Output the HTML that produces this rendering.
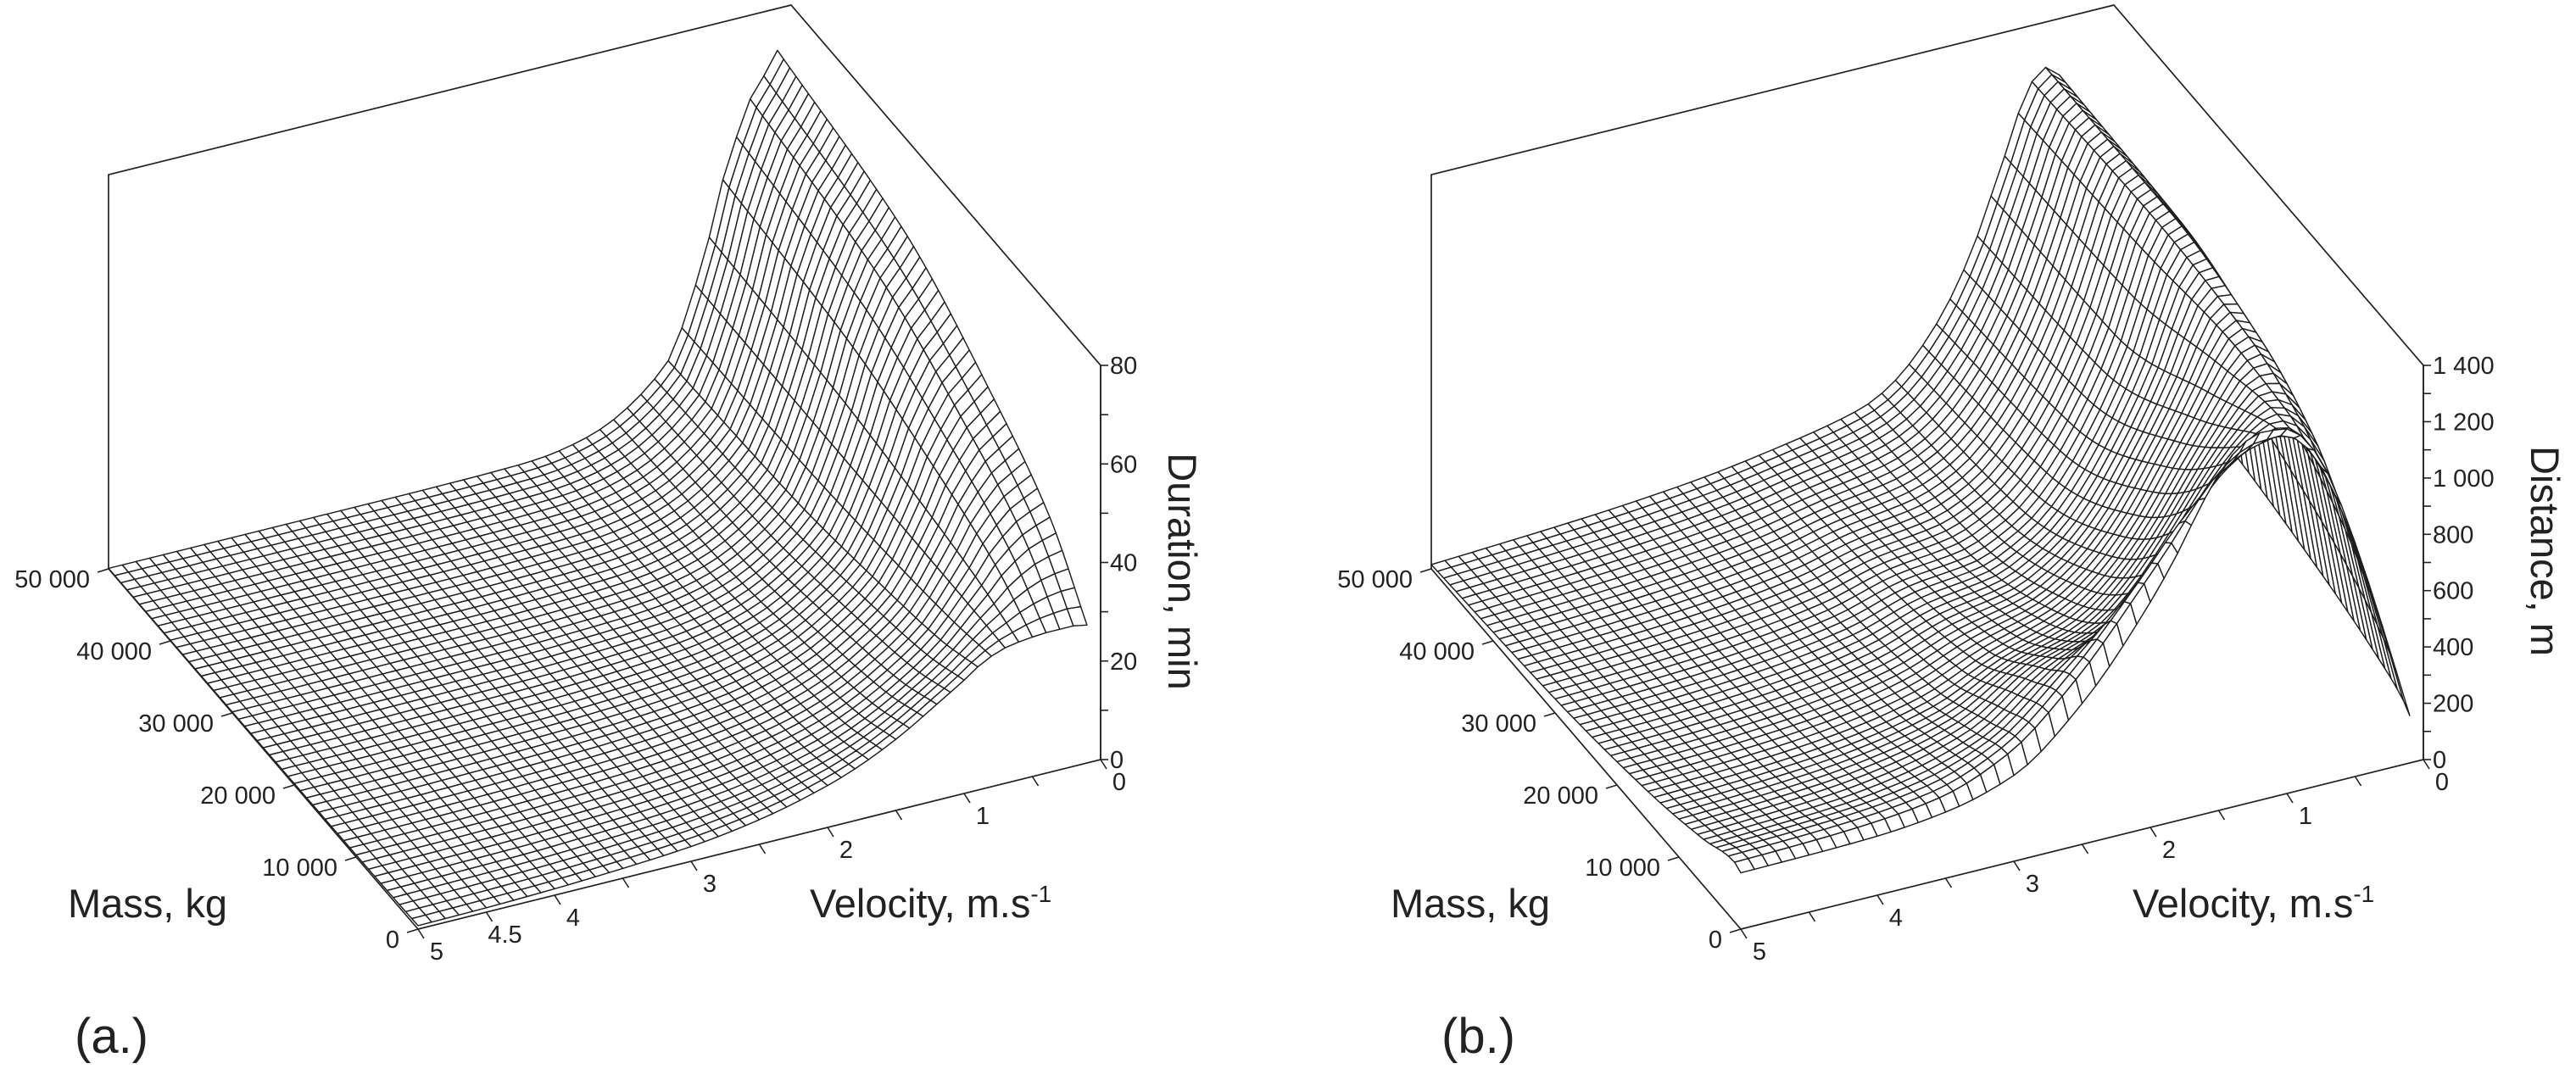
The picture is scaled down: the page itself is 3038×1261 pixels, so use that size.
<!DOCTYPE html>
<html><head><meta charset="utf-8"><style>
html,body{margin:0;padding:0;background:#fff;}
svg{display:block;font-family:"Liberation Sans",Arial,sans-serif;}
</style></head><body>
<svg id="chart" width="3038" height="1261" viewBox="0 0 3038 1261" xmlns="http://www.w3.org/2000/svg">
<rect width="3038" height="1261" fill="#fff"/>
<g id="panelA"></g>
<g id="panelB"></g>
<text x="88" y="1242" font-size="58" fill="#222">(a.)</text>
<text x="1700" y="1242" font-size="58" fill="#222">(b.)</text>
<text x="80" y="1082" font-size="47" fill="#222">Mass, kg</text>
<text x="955" y="1082" font-size="47" fill="#222">Velocity, m.s<tspan font-size="28" dy="-18">-1</tspan></text>
<text x="0" y="0" font-size="47" fill="#222" text-anchor="middle" transform="translate(1378,674) rotate(90)">Duration, min</text>
<text x="1640" y="1082" font-size="47" fill="#222">Mass, kg</text>
<text x="2515" y="1082" font-size="47" fill="#222">Velocity, m.s<tspan font-size="28" dy="-18">-1</tspan></text>
<text x="0" y="0" font-size="47" fill="#222" text-anchor="middle" transform="translate(2985,650) rotate(90)">Distance, m</text>
</svg>
<script>
// ---- data ----
const velocityCols = [0.1,0.2,0.3,0.4,0.5,0.6,0.7,0.8,0.9,1.0,1.2,1.4,1.6,1.8,2.0,2.5,3.0,3.5,4.0,4.5,5.0];
const durationMassRows = [0,6000,15000,30000,50000];
const durationM0     = [28,28.5,28.5,28.5,28.3,28,27.5,26.5,25,23,19.5,16,13,10.5,8.5,5,3,2,1.3,0.9,0.7];
const durationM6000  = [41.1,40.1,38.9,36.8,34.2,30.7,27.7,24.6,21.7,19.4,15.6,12.3,9.6,7.6,6.1,3.5,2.1,1.4,0.9,0.7,0.5];
const durationM15000 = [51.9,49.7,47.5,43.6,39.1,33,27.8,22.9,19,16.4,12.4,9.1,6.8,5.2,4.0,2.3,1.4,0.95,0.65,0.46,0.37];
const durationM30000 = [65,61.2,57.8,51.9,45,35.7,27.9,21,15.7,12.8,8.5,5.4,3.5,2.3,1.6,0.9,0.5,0.4,0.3,0.22,0.2];
const durationM50000 = [71.5,67,63,56,48,37,28,20,14,11,6.5,3.5,1.8,0.8,0.4,0.15,0.1,0.1,0.1,0.1,0.1];
const distanceMassRows = [0,1000,6000,15000,30000,50000];
const distanceM0     = [168,340,510,675,830,975,1100,1195,1260,1295,1305,1250,1120,950,800,500,305,235,210,203,200];
const distanceM1000  = [195,375,545,705,855,985,1095,1175,1225,1245,1240,1190,1090,960,840,560,355,260,230,218,212];
const distanceM6000  = [250,480,700,880,1020,1100,1150,1170,1160,1130,1040,920,790,670,580,470,300,225,190,175,165];
const distanceM15000 = [311,596,855,1046,1160,1190,1170,1110,1030,950,800,650,530,440,380,300,200,150,125,112,105];
const distanceM30000 = [380,720,1010,1180,1240,1220,1130,990,850,740,560,420,320,260,220,190,125,90,70,58,50];
const distanceM50000 = [429,780,1060,1200,1239,1200,1100,960,830,700,500,360,260,200,170,122,85,60,42,28,15];
const velocityLabelsA = [5,4.5,4,3,2,1,0];
const velocityLabelsB = [5,4,3,2,1,0];
const massTicks = [0,10000,20000,30000,40000,50000];
const durationTicks = [0,20,40,60,80];
const distanceTicks = [0,200,400,600,800,1000,1200,1400];

const NS = 'http://www.w3.org/2000/svg';
const durationTable = [durationM0,durationM6000,durationM15000,durationM30000,durationM50000];
const distanceTable = [distanceM0,distanceM1000,distanceM6000,distanceM15000,distanceM30000,distanceM50000];

function pchip(ys, xs, x){
  const n = xs.length;
  if (x <= xs[0]) return ys[0];
  if (x >= xs[n-1]) return ys[n-1];
  const h = [], dl = [];
  for (let i=0;i<n-1;i++){ h.push(xs[i+1]-xs[i]); dl.push((ys[i+1]-ys[i])/h[i]); }
  const m = new Array(n);
  m[0]=dl[0]; m[n-1]=dl[n-2];
  for (let i=1;i<n-1;i++){
    if (dl[i-1]*dl[i] <= 0) m[i]=0;
    else { const w1=2*h[i]+h[i-1], w2=h[i]+2*h[i-1]; m[i]=(w1+w2)/(w1/dl[i-1]+w2/dl[i]); }
  }
  let k=0; while (k<n-2 && x>xs[k+1]) k++;
  const t=(x-xs[k])/h[k], t2=t*t, t3=t2*t;
  return (2*t3-3*t2+1)*ys[k] + (t3-2*t2+t)*h[k]*m[k] + (-2*t3+3*t2)*ys[k+1] + (t3-t2)*h[k]*m[k+1];
}
function surfVal(table, rows, v, m){
  const col = table.map(r => pchip(r, velocityCols, v));
  return pchip(col, rows, m);
}
function mk(tag, attrs, parent){
  const e = document.createElementNS(NS, tag);
  for (const k in attrs) e.setAttribute(k, attrs[k]);
  parent.appendChild(e);
  return e;
}
function drawPanel(g, ox, table, rows, zmax, zTicks, vLabels, zLabelPrefix){
  const P = (v,m,z) => [ox + 1298 - 161*v - 365*m/50000, 896 + 40*v - 425*m/50000 - 465*z/zmax];
  const st = {stroke:'#222','stroke-width':1.7,fill:'none'};
  const pts = [P(5,50000,0),P(5,50000,zmax),P(0,50000,zmax),P(0,0,zmax),P(0,0,0)];
  const box = mk('polyline', Object.assign({points: pts.map(p=>p.join(',')).join(' ')}, st), g);
  
  
  const sg = mk('g', {}, g);
  
  
  const vs = []; for (let i=1;i<=50;i++) vs.push(i/10);
  const ms = []; for (let j=0;j<=50;j++) ms.push(j*1000);
  const grid = vs.map(v => ms.map(m => P(v, m, surfVal(table, rows, v, m))));
  const cells = [];
  for (let i=0;i<vs.length-1;i++) for (let j=0;j<ms.length-1;j++){
    const vc=(vs[i]+vs[i+1])/2, mc=(ms[j]+ms[j+1])/2;
    cells.push({i,j,d:40*vc - 425*mc/50000});
  }
  cells.sort((a,b)=>a.d-b.d);
  for (const c of cells){
    const a=grid[c.i][c.j], b=grid[c.i+1][c.j], cc=grid[c.i+1][c.j+1], e=grid[c.i][c.j+1];
    const d = `M${a[0].toFixed(1)},${a[1].toFixed(1)}L${b[0].toFixed(1)},${b[1].toFixed(1)}L${cc[0].toFixed(1)},${cc[1].toFixed(1)}L${e[0].toFixed(1)},${e[1].toFixed(1)}Z`;
    const q = mk('path', {d, fill:'#fff', stroke:'#1e1e1e', 'stroke-width':1.45, 'stroke-linejoin':'round'}, sg);
    
    
  }
  const ag = mk('g', {}, g);
  
  
  const va = mk('line', Object.assign({x1:P(5,0,0)[0],y1:P(5,0,0)[1],x2:P(0,0,0)[0],y2:P(0,0,0)[1]}, st), ag);
  
  
  const ma = mk('line', Object.assign({x1:P(5,0,0)[0],y1:P(5,0,0)[1],x2:P(5,50000,0)[0],y2:P(5,50000,0)[1]}, st), ag);
  
  
  for (let k=0;k<=10;k++){
    const v=k/2, p=P(v,0,0);
    const t = mk('line', {x1:p[0],y1:p[1],x2:p[0]+7,y2:p[1]+11,stroke:'#222','stroke-width':1.6}, ag);
    
    
  }
  vLabels.forEach(v => {
    const p=P(v,0,0);
    const t = mk('text', {x:p[0]+22,y:p[1]+36,'font-size':29,'text-anchor':'middle',fill:'#222'}, ag);
    t.textContent = String(v);
    
    
  });
  massTicks.forEach(m => {
    const p=P(5,m,0);
    const t = mk('line', {x1:p[0],y1:p[1],x2:p[0]-13,y2:p[1]+4,stroke:'#222','stroke-width':1.6}, ag);
    
    
    const l = mk('text', {x:p[0]-22,y:p[1]+22,'font-size':29,'text-anchor':'end',fill:'#222'}, ag);
    l.textContent = m===0 ? '0' : String(m).replace(/\B(?=(\d{3})+(?!\d))/g,' ');
    
    
  });
  const za = mk('line', Object.assign({x1:P(0,0,0)[0],y1:P(0,0,0)[1],x2:P(0,0,zmax)[0],y2:P(0,0,zmax)[1]}, st), ag);
  
  
  const step = zTicks[1]-zTicks[0];
  for (let z=0; z<=zmax+1e-9; z+=step/2){
    const p=P(0,0,z);
    const t = mk('line', {x1:p[0],y1:p[1],x2:p[0]+9,y2:p[1],stroke:'#222','stroke-width':1.6}, ag);
    
    
  }
  zTicks.forEach(z => {
    const p=P(0,0,z);
    const l = mk('text', {x:p[0]+11,y:p[1]+10,'font-size':29,fill:'#222'}, ag);
    l.textContent = String(z).replace(/\B(?=(\d{3})+(?!\d))/g,' ');
    
    
  });
}
drawPanel(document.getElementById('panelA'), 0, durationTable, durationMassRows, 80, durationTicks, velocityLabelsA, 'duration');
drawPanel(document.getElementById('panelB'), 1560, distanceTable, distanceMassRows, 1400, distanceTicks, velocityLabelsB, 'distance');
</script>
</body></html>
